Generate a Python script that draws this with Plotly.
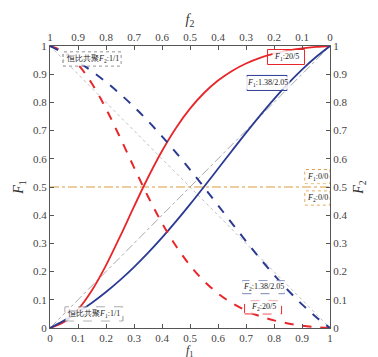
import plotly.graph_objects as go

# feed composition f1
f1 = [0, 0.05, 0.1, 0.15, 0.2, 0.25, 0.3, 0.35, 0.4, 0.45, 0.5,
      0.55, 0.6, 0.65, 0.7, 0.75, 0.8, 0.85, 0.9, 0.95, 1]
# r1/r2 = 20/5
F1_red = [0, 0.0209, 0.0655, 0.1338, 0.2222, 0.3239, 0.4304, 0.5336, 0.6277, 0.7094, 0.7778,
          0.8333, 0.8774, 0.9117, 0.9381, 0.9581, 0.9730, 0.9838, 0.9915, 0.9967, 1]
F2_red = [1, 0.9791, 0.9345, 0.8662, 0.7778, 0.6761, 0.5696, 0.4664, 0.3723, 0.2906, 0.2222,
          0.1667, 0.1226, 0.0883, 0.0619, 0.0419, 0.0270, 0.0162, 0.0085, 0.0033, 0]
# r1/r2 = 1.38/2.05
F1_blue = [0, 0.0262, 0.0560, 0.0897, 0.1276, 0.1696, 0.2158, 0.2661, 0.3203, 0.3779, 0.4383,
           0.5009, 0.5647, 0.6287, 0.6920, 0.7533, 0.8117, 0.8662, 0.9162, 0.9609, 1]
F2_blue = [1, 0.9738, 0.9440, 0.9103, 0.8724, 0.8304, 0.7842, 0.7339, 0.6797, 0.6221, 0.5617,
           0.4991, 0.4353, 0.3713, 0.3080, 0.2467, 0.1883, 0.1338, 0.0838, 0.0391, 0]
# azeotropic (1/1) and alternating (0/0) reference lines
ideal_x = [0, 1]
ideal_F1 = [0, 1]
ideal_F2 = [1, 0]
alt_x = [0, 1]
alt_F = [0.5, 0.5]

ticks = [0, 0.1, 0.2, 0.3, 0.4, 0.5, 0.6, 0.7, 0.8, 0.9, 1]
tick_text = ["0", "0.1", "0.2", "0.3", "0.4", "0.5", "0.6", "0.7", "0.8", "0.9", "1"]

RED = "#E8262A"
BLUE = "#2B3A92"
GRAY = "#A8A8A8"
ORANGE = "#DC9A3C"
AX = "#555555"
FONT = "Liberation Serif"

fig = go.Figure()
fig.add_trace(go.Scatter(x=ideal_x, y=ideal_F1, mode="lines",
                         line=dict(color=GRAY, width=1, dash="dashdot")))
fig.add_trace(go.Scatter(x=ideal_x, y=ideal_F2, mode="lines",
                         line=dict(color="#C0C0C0", width=1, dash="dot")))
fig.add_trace(go.Scatter(x=alt_x, y=alt_F, mode="lines",
                         line=dict(color=ORANGE, width=1.2, dash="dashdot")))
fig.add_trace(go.Scatter(x=f1, y=F1_red, mode="lines", line_shape="spline",
                         line=dict(color=RED, width=1.8)))
fig.add_trace(go.Scatter(x=f1, y=F1_blue, mode="lines", line_shape="spline",
                         line=dict(color=BLUE, width=1.8)))
fig.add_trace(go.Scatter(x=f1, y=F2_red, mode="lines", line_shape="spline", yaxis="y2",
                         line=dict(color=RED, width=2, dash="dash")))
fig.add_trace(go.Scatter(x=f1, y=F2_blue, mode="lines", line_shape="spline", yaxis="y2",
                         line=dict(color=BLUE, width=2, dash="dash")))
fig.add_trace(go.Scatter(x=[1, 0], y=[0, 1], xaxis="x2", yaxis="y2", mode="lines",
                         line=dict(width=0), hoverinfo="skip", opacity=0))

tickfont = dict(family=FONT, size=11, color="#444444")
common = dict(range=[0, 1], tickvals=ticks, ticktext=tick_text, ticks="inside",
              ticklen=4, tickcolor=AX, showline=True, linecolor=AX, linewidth=1,
              showgrid=False, zeroline=False, tickfont=tickfont, automargin=False)
title_font = dict(family=FONT, size=14, color="#333")

fig.update_layout(
    width=378, height=357,
    margin=dict(l=42, r=56, t=38, b=37),
    paper_bgcolor="white", plot_bgcolor="white",
    showlegend=False,
    font=dict(family=FONT),
    xaxis=dict(**common),
    yaxis=dict(**common, title=dict(text="<i>F</i><sub>1</sub>", standoff=6, font=title_font)),
    xaxis2=dict(**{**common, "range": [1, 0]}, overlaying="x", side="top",
                title=dict(text="<i>f</i><sub>2</sub>", standoff=2, font=title_font)),
    yaxis2=dict(**common, overlaying="y", side="right",
                title=dict(text="<i>F</i><sub>2</sub>", standoff=6, font=title_font)),
)
fig.add_annotation(x=0.5, y=-0.046, xref="paper", yref="paper", xanchor="center",
                   yanchor="top", text="<i>f</i><sub>1</sub>", showarrow=False,
                   font=dict(family=FONT, size=12, color="#333"))

labels = [
    ("恒比共聚<i>F</i><sub>2</sub>:1/1", 0.15, 0.954, "#777777", "dot", 58, 14),
    ("恒比共聚<i>F</i><sub>1</sub>:1/1", 0.157, 0.05, "#999999", "dash", 58, 14),
    ("<i>F</i><sub>1</sub>:20/5", 0.843, 0.961, RED, "solid", 37, 15),
    ("<i>F</i><sub>1</sub>:1.38/2.05", 0.775, 0.869, BLUE, "solid", 40, 15),
    ("<i>F</i><sub>1</sub>:0/0", 0.955, 0.537, ORANGE, "dot", 25, 14),
    ("<i>F</i><sub>2</sub>:0/0", 0.955, 0.461, ORANGE, "dot", 25, 14),
    ("<i>F</i><sub>2</sub>:1.38/2.05", 0.7625, 0.145, BLUE, "dash", 42, 13),
    ("<i>F</i><sub>2</sub>:20/5", 0.761, 0.073, RED, "dash", 37, 13),
]
for text, x, y, col, dash, w, h in labels:
    fig.add_annotation(x=x, y=y, xref="x", yref="y", text=text, showarrow=False,
                       font=dict(family=FONT, size=8, color="#222222"),
                       bgcolor="rgba(255,255,255,0.85)")
    fig.add_shape(type="rect", xref="x", yref="y", xsizemode="pixel", ysizemode="pixel",
                  xanchor=x, yanchor=y, x0=-w / 2, x1=w / 2, y0=-h / 2, y1=h / 2,
                  line=dict(color=col, width=1, dash=dash))

fig.write_html("out.html")
